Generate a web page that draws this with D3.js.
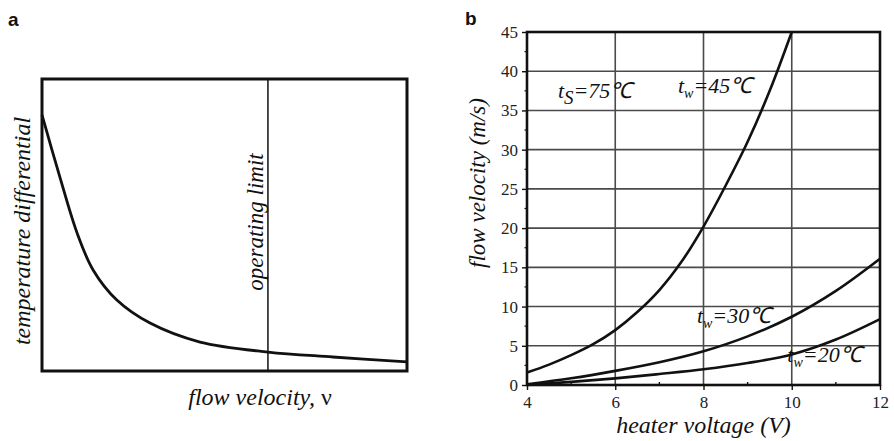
<!DOCTYPE html>
<html><head><meta charset="utf-8">
<script src="https://cdn.jsdelivr.net/npm/d3@7"></script>
</head>
<body style="margin:0;background:#fff">
<svg id="c" width="894" height="441"></svg>
<script>
const SERIF = "Liberation Serif";
const SANS = "Liberation Sans";
// ---- Panel a data (relative, no numeric axes) ----
const aX = [0, 0.049, 0.096, 0.140, 0.205, 0.296, 0.433, 0.619, 0.797, 1.0];
const aY = [0.877, 0.664, 0.473, 0.346, 0.243, 0.164, 0.099, 0.065, 0.048, 0.031];
const operatingLimit = 0.619;

// ---- Panel b data ----
const v45 = [4, 4.5, 5, 5.5, 6, 6.5, 7, 7.5, 8, 8.5, 9, 9.5, 10];
const u45 = [1.6, 2.6, 3.8, 5.2, 7.0, 9.3, 12.1, 15.7, 20.2, 25.4, 31.0, 37.5, 45];
const v30 = [4, 5, 6, 7, 8, 9, 10, 11, 12];
const u30 = [0.1, 0.85, 1.8, 2.9, 4.3, 6.2, 8.7, 12.0, 16.1];
const v20 = [4, 5, 6, 7, 8, 9, 10, 11, 12];
const u20 = [0.0, 0.4, 0.85, 1.4, 2.0, 2.8, 3.9, 5.8, 8.4];
const xTicks = [4, 6, 8, 10, 12];
const xMinor = [5, 7, 9, 11];
const yTicks = [0, 5, 10, 15, 20, 25, 30, 35, 40, 45];
const yMinor = [2.5, 7.5, 12.5, 17.5, 22.5, 27.5, 32.5, 37.5, 42.5];
const curveLabels = [
  {t: "t", sub: "S", rest: "=75℃", v: 4.70, u: 36.6},
  {t: "t", sub: "w", rest: "=45℃", v: 7.42, u: 37.2},
  {t: "t", sub: "w", rest: "=30℃", v: 7.85, u: 7.9},
  {t: "t", sub: "w", rest: "=20℃", v: 9.90, u: 2.9}
];

const svg = d3.select("#c");

// ================= Panel a =================
const ax = d3.scaleLinear().domain([0, 1]).range([42, 407]);
const ay = d3.scaleLinear().domain([0, 1]).range([371, 79]);

svg.append("text").attr("x", 8).attr("y", 26)
  .attr("font-family", SANS).attr("font-weight", "bold")
  .attr("font-size", 19).attr("fill", "#111").text("a");

svg.append("line")
  .attr("x1", ax(operatingLimit)).attr("x2", ax(operatingLimit))
  .attr("y1", ay(1)).attr("y2", ay(0))
  .attr("stroke", "#111").attr("stroke-width", 1.5);

svg.append("path")
  .datum(aX.map((x, i) => [x, aY[i]]))
  .attr("fill", "none").attr("stroke", "#111").attr("stroke-width", 2.8)
  .attr("d", d3.line().x(d => ax(d[0])).y(d => ay(d[1])).curve(d3.curveCatmullRom.alpha(0.5)));

svg.append("rect")
  .attr("x", ax(0)).attr("y", ay(1))
  .attr("width", ax(1) - ax(0)).attr("height", ay(0) - ay(1))
  .attr("fill", "none").attr("stroke", "#111").attr("stroke-width", 3);

svg.append("text")
  .attr("transform", `translate(30,231) rotate(-90)`)
  .attr("text-anchor", "middle").attr("font-family", SERIF).attr("font-style", "italic").attr("font-size", 24)
  .attr("fill", "#111").text("temperature differential");

svg.append("text")
  .attr("transform", `translate(${ax(operatingLimit) - 5},222) rotate(-90)`)
  .attr("text-anchor", "middle").attr("font-family", SERIF).attr("font-style", "italic").attr("font-size", 23)
  .attr("fill", "#111").text("operating limit");

const fv = svg.append("text").attr("x", 260).attr("y", 405)
  .attr("text-anchor", "middle").attr("font-family", SERIF).attr("font-size", 24).attr("fill", "#111");
fv.append("tspan").attr("font-style", "italic").text("flow velocity, ");
fv.append("tspan").text("ν");

// ================= Panel b =================
const bx = d3.scaleLinear().domain([4, 12]).range([527, 880]);
const by = d3.scaleLinear().domain([0, 45]).range([385, 32]);

svg.append("text").attr("x", 465).attr("y", 25)
  .attr("font-family", SANS).attr("font-weight", "bold")
  .attr("font-size", 19).attr("fill", "#111").text("b");

// grid
const g = svg.append("g");
g.selectAll(".hg").data(yTicks.filter(d => d > 0 && d < 45)).join("line")
  .attr("x1", bx(4)).attr("x2", bx(12)).attr("y1", d => by(d)).attr("y2", d => by(d))
  .attr("stroke", "#4a4a4a").attr("stroke-width", 1.6);
g.selectAll(".vg").data(xTicks.filter(d => d > 4 && d < 12)).join("line")
  .attr("x1", d => bx(d)).attr("x2", d => bx(d)).attr("y1", by(0)).attr("y2", by(45))
  .attr("stroke", "#4a4a4a").attr("stroke-width", 1.6);

// curves
const line = d3.line().x(d => bx(d[0])).y(d => by(d[1])).curve(d3.curveCatmullRom.alpha(0.5));
[[v45, u45], [v30, u30], [v20, u20]].forEach(([vs, us]) => {
  svg.append("path").datum(vs.map((v, i) => [v, us[i]]))
    .attr("fill", "none").attr("stroke", "#111").attr("stroke-width", 2.6)
    .attr("d", line);
});

// frame
svg.append("rect")
  .attr("x", bx(4)).attr("y", by(45))
  .attr("width", bx(12) - bx(4)).attr("height", by(0) - by(45))
  .attr("fill", "none").attr("stroke", "#111").attr("stroke-width", 2.6);

// axes
const yAxis = svg.append("g").attr("transform", `translate(${bx(4)},0)`)
  .call(d3.axisLeft(by).tickValues(yTicks).tickSize(5).tickPadding(4));
yAxis.attr("font-family", SERIF).attr("font-size", 17);
yAxis.select(".domain").remove();
yAxis.selectAll("line").attr("stroke", "#111").attr("stroke-width", 1.4);
yAxis.selectAll("text").attr("font-family", SERIF).attr("font-size", 17).attr("fill", "#222");
svg.append("g").selectAll("line").data(yMinor).join("line")
  .attr("x1", bx(4) - 2.5).attr("x2", bx(4)).attr("y1", d => by(d)).attr("y2", d => by(d))
  .attr("stroke", "#111").attr("stroke-width", 1.2);

const xAxis = svg.append("g").attr("transform", `translate(0,${by(0)})`)
  .call(d3.axisBottom(bx).tickValues(xTicks).tickSize(5).tickPadding(6));
xAxis.attr("font-family", SERIF).attr("font-size", 17);
xAxis.select(".domain").remove();
xAxis.selectAll("line").attr("stroke", "#111").attr("stroke-width", 1.4);
xAxis.selectAll("text").attr("font-family", SERIF).attr("font-size", 17).attr("fill", "#222");
svg.append("g").selectAll("line").data(xMinor).join("line")
  .attr("x1", d => bx(d)).attr("x2", d => bx(d)).attr("y1", by(0) - 3).attr("y2", by(0))
  .attr("stroke", "#111").attr("stroke-width", 1.4);

// axis titles
svg.append("text").attr("x", bx(8)).attr("y", 433)
  .attr("text-anchor", "middle").attr("font-family", SERIF).attr("font-style", "italic").attr("font-size", 24)
  .attr("fill", "#111").text("heater voltage (V)");
svg.append("text")
  .attr("transform", `translate(485,183) rotate(-90)`)
  .attr("text-anchor", "middle").attr("font-family", SERIF).attr("font-style", "italic").attr("font-size", 23)
  .attr("fill", "#111").text("flow velocity (m/s)");

// curve labels
curveLabels.forEach(L => {
  const t = svg.append("text").attr("x", bx(L.v)).attr("y", by(L.u))
    .attr("font-family", SERIF).attr("font-size", 22).attr("font-style", "italic").attr("fill", "#111");
  t.append("tspan").text(L.t);
  t.append("tspan").attr("font-size", L.sub === "S" ? 19 : 14)
    .attr("dy", L.sub === "S" ? 6 : 5).text(L.sub);
  t.append("tspan").attr("dy", L.sub === "S" ? -6 : -5).text(L.rest);
});
</script>
</body></html>
